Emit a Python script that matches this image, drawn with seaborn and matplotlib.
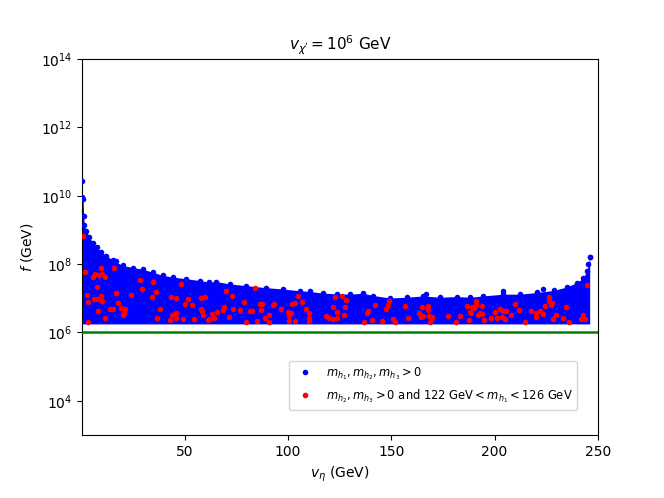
import numpy as np
import pandas as pd
import matplotlib
matplotlib.use("Agg")
import matplotlib.pyplot as plt
from matplotlib.lines import Line2D
import seaborn as sns

# ---- data (x: v_eta in GeV, y: log10 f in GeV) ----
env_x = [0.4, 0.8, 1.1, 1.45, 2.3, 3.9, 5.5, 7.5, 9.5, 12.0, 15.2, 20.0, 24.9,
         29.7, 34.6, 39.4, 44.3, 50.8, 57.2, 62.0, 65.3, 71.7, 79.8, 89.5, 97.6,
         105.7, 110.5, 117.0, 123.5, 130.0, 136.4, 141.2, 149.3, 157.4, 165.4,
         173.5, 181.6, 188.1, 194.5, 204.2, 212.3, 220.4, 228.5, 234.9, 239.8,
         243.0, 244.6, 245.4, 246.0]
env_log10f = [9.95, 9.9, 9.42, 9.13, 8.98, 8.78, 8.63, 8.5, 8.36, 8.25, 8.11, 7.96,
              7.9, 7.85, 7.76, 7.67, 7.62, 7.57, 7.52, 7.47, 7.49, 7.42, 7.37, 7.31,
              7.27, 7.22, 7.2, 7.15, 7.13, 7.12, 7.15, 7.08, 7.01, 7.03, 7.07, 7.03,
              7.05, 7.03, 7.07, 7.12, 7.12, 7.17, 7.23, 7.33, 7.46, 7.6, 7.8, 8.0, 8.2]
blue_floor_log10f = 6.25

blue_extra_x = [0.5, 16.8, 204.2, 223.6, 166.7, 246.0]
blue_extra_log10f = [10.42, 8.1, 7.2, 7.28, 7.12, 8.22]

red_x = [0.97, 1.8, 9.4, 15.8, 6.6, 5.8, 8.7, 11.3, 9.9, 7.6, 28.6, 29.4, 34.9, 2.8,
         9.7, 16.8, 24.2, 36.2, 34.4, 43.6, 45.6, 48.3, 51.4, 58.0, 60.0, 3.2, 6.1,
         7.6, 10.0, 17.8, 13.9, 15.2, 19.4, 21.0, 20.7, 20.2, 38.1, 50.3, 53.3, 57.8,
         58.3, 59.1, 7.8, 11.3, 3.1, 36.5, 43.8, 46.0, 45.7, 43.0, 49.3, 54.3, 61.2,
         69.9, 73.0, 83.9, 78.7, 69.2, 68.7, 73.2, 76.6, 86.6, 87.4, 92.7, 93.2,
         102.1, 103.4, 106.6, 105.0, 96.5, 87.1, 81.6, 82.7, 65.4, 63.3, 64.3, 62.0,
         71.4, 79.8, 85.2, 88.9, 90.8, 90.6, 100.2, 101.3, 100.3, 100.3, 103.4, 108.6,
         110.0, 110.0, 110.2, 118.6, 119.7, 121.8, 123.6, 121.8, 123.8, 122.8,
         125.9, 128.1, 127.6, 127.0, 142.2, 149.0, 148.2, 147.4, 138.8, 138.0, 156.6,
         164.7, 167.7, 167.7, 163.4, 165.1, 164.2, 168.1, 169.8, 168.7, 169.2, 157.9,
         150.8, 151.6, 145.4, 140.7, 136.7, 177.3, 183.2, 181.1, 186.6, 187.9, 187.4,
         188.9, 191.0, 191.0, 194.0, 192.9, 192.0, 193.9, 190.2, 188.4, 200.2, 202.6,
         204.2, 205.4, 203.6, 201.3, 204.9, 208.1, 209.9, 212.0, 217.6, 219.9, 220.1,
         222.0, 223.6, 226.2, 226.5, 228.0, 227.5, 224.6, 234.6, 229.9, 228.3, 233.3,
         236.2, 243.0, 241.7, 243.8, 244.6, 214.9, 198.1, 195.0]
red_log10f = [8.83, 7.76, 7.90, 7.88, 7.71, 7.63, 7.68, 7.62, 7.70, 7.34, 7.53, 7.28,
              7.47, 7.11, 7.06, 7.14, 7.11, 7.17, 7.04, 7.04, 7.02, 7.41, 6.99, 7.01,
              7.03, 6.89, 6.97, 6.99, 6.92, 6.85, 6.70, 6.68, 6.72, 6.68, 6.58, 6.50,
              6.68, 6.83, 6.79, 6.70, 6.62, 6.52, 6.63, 6.41, 6.32, 6.42, 6.52, 6.56,
              6.41, 6.35, 6.40, 6.38, 6.37,
              7.20, 7.07, 7.30, 6.90, 6.74, 6.65, 6.69, 6.66, 6.84, 6.83, 6.79, 6.83,
              6.83, 6.85, 6.88, 7.06, 6.70, 6.66, 6.64, 6.63, 6.60, 6.54, 6.41, 6.38,
              6.44, 6.31, 6.33, 6.43, 6.52, 6.30, 6.61, 6.57, 6.48, 6.34, 6.33, 6.70,
              6.57, 6.41, 6.34, 6.47, 6.41, 6.40, 6.41, 6.74, 6.61, 7.05,
              7.06, 6.96, 6.74, 6.52, 6.80, 6.91, 6.80, 6.70, 6.63, 6.58, 6.76, 6.74,
              6.76, 6.66, 6.57, 6.49, 6.45, 6.49, 6.44, 6.32, 6.40, 6.43, 6.39, 6.31,
              6.34, 6.35, 6.31, 6.48, 6.47, 6.30, 6.77, 6.59, 6.35,
              6.74, 6.79, 6.93, 6.78, 6.58, 6.50, 6.54, 6.72, 6.58, 6.60, 6.70, 6.62,
              6.62, 6.46, 6.41, 6.39, 6.52, 6.83, 6.66, 6.63, 6.58, 6.45, 6.64, 6.55,
              7.03, 6.93, 6.87, 6.79, 6.76, 6.74, 6.51, 6.40, 6.41, 6.30, 6.50, 6.38,
              6.40, 7.40, 6.31, 6.42, 6.37]

line_f = 1e6
y_ticks = [1e4, 1e6, 1e8, 1e10, 1e12, 1e14]
x_ticks = [50, 100, 150, 200, 250]

label_blue = r'$m_{h_1}, m_{h_2}, m_{h_3} > 0$'
label_red = r'$m_{h_2}, m_{h_3} > 0$ and 122 GeV$< m_{h_1} <$126 GeV'

# ---- figure ----
fig = plt.figure(figsize=(6.64, 4.98), dpi=100)
ax = fig.add_axes([0.1235, 0.1265, 0.777, 0.755])

env = pd.DataFrame({"x": env_x, "f": np.power(10.0, env_log10f)})
blue_pts = pd.DataFrame({"x": env_x + blue_extra_x,
                         "f": np.power(10.0, env_log10f + blue_extra_log10f)})
red = pd.DataFrame({"x": red_x, "f": np.power(10.0, red_log10f)})

ax.fill_between(env["x"], 10 ** blue_floor_log10f, env["f"], color="blue",
                linewidth=0, zorder=2)
sns.scatterplot(data=blue_pts, x="x", y="f", color="blue", s=16, linewidth=0,
                ax=ax, zorder=3, legend=False)
sns.scatterplot(data=red, x="x", y="f", color="red", s=16, linewidth=0,
                ax=ax, zorder=4, legend=False)
ax.axhline(line_f, color="green", linewidth=1.8, zorder=5)

ax.set_yscale("log")
ax.set_ylim(1e3, 1e14)
ax.set_xlim(0.3, 250)
ax.set_yticks(y_ticks)
ax.yaxis.set_minor_locator(matplotlib.ticker.NullLocator())
ax.set_xticks(x_ticks)
ax.set_xticklabels([str(t) for t in x_ticks])

ax.set_title(r'$v_{\chi^\prime} = 10^6$ GeV', fontsize=11)
ax.set_xlabel(r'$v_\eta$ (GeV)')
ax.set_ylabel(r'$f$ (GeV)')

handles = [Line2D([], [], linestyle="none", marker="o", color="blue", markersize=3),
           Line2D([], [], linestyle="none", marker="o", color="red", markersize=3)]
ax.legend(handles, [label_blue, label_red], loc="upper left",
          bbox_to_anchor=(0.401, 0.198), borderaxespad=0, fontsize=8.3)

fig.savefig("out.png", dpi=100)
